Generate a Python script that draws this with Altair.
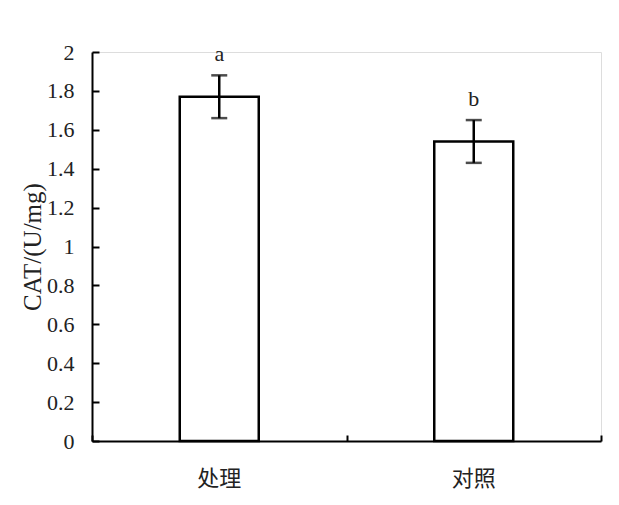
import altair as alt
import pandas as pd

groups = ["处理", "对照"]
means = [1.77, 1.54]
errors = [0.11, 0.11]
letters = ["a", "b"]
yticks = [0, 0.2, 0.4, 0.6, 0.8, 1, 1.2, 1.4, 1.6, 1.8, 2]

df = pd.DataFrame({"group": groups, "mean": means, "err": errors, "letter": letters})

W, H = 509, 389
SERIF = "Liberation Serif"
CJK = "Noto Sans CJK SC"

xscale = alt.Scale(domain=groups, paddingInner=0, paddingOuter=0)
yscale = alt.Scale(domain=[0, 2], nice=False)

base = alt.Chart(df).transform_calculate(
    lo="datum.mean - datum.err", hi="datum.mean + datum.err"
)

xn = alt.X("group:N", scale=xscale, sort=groups, axis=None)

bars = base.mark_bar(width=79, fill="white", stroke="black", strokeWidth=2.5).encode(
    x=alt.X("group:N", scale=xscale, sort=groups,
            axis=alt.Axis(title=None, orient="bottom", ticks=False, labelAngle=0,
                          labelFont=CJK, labelFontSize=22, labelColor="#222",
                          labelPadding=27, domainColor="black", domainWidth=2)),
    y=alt.Y("mean:Q", scale=yscale,
            axis=alt.Axis(title="CAT/(U/mg)", orient="left", ticks=False,
                          values=yticks, format="~g",
                          labelFont=SERIF, labelFontSize=22, labelColor="#222",
                          labelPadding=18, domainColor="black", domainWidth=2,
                          grid=False, titleFont=SERIF, titleFontSize=25,
                          titleFontWeight="normal", titleColor="#222", titlePadding=1)),
)

stems = base.mark_rule(color="black", strokeWidth=2.5).encode(
    x=xn,
    y=alt.Y("lo:Q", scale=yscale, axis=None),
    y2="hi:Q",
)

caps_lo = base.mark_tick(orient="horizontal", size=16, thickness=2.5, color="black").encode(
    x=xn,
    y=alt.Y("lo:Q", scale=yscale, axis=None),
)

caps_hi = base.mark_tick(orient="horizontal", size=16, thickness=2.5, color="black").encode(
    x=xn,
    y=alt.Y("hi:Q", scale=yscale, axis=None),
)

labels = base.mark_text(font=SERIF, fontSize=22, color="#222", dy=-21).encode(
    x=alt.X("group:N", scale=xscale, sort=groups,
            axis=alt.Axis(title=None, orient="top", offset=-H, labels=False, domain=False,
                          grid=False, tickBand="extent", tickSize=6, tickWidth=2,
                          tickColor="black", tickCap="butt")),
    y=alt.Y("hi:Q", scale=yscale,
            axis=alt.Axis(title=None, orient="right", offset=-W, labels=False, domain=False,
                          values=yticks, tickSize=7, tickWidth=2, tickColor="black",
                          grid=False)),
    text="letter:N",
)

chart = alt.layer(bars, stems, caps_lo, caps_hi, labels).resolve_axis(
    x="independent", y="independent"
).properties(
    width=W, height=H,
    autosize=alt.AutoSizeParams(type="none"),
    padding={"left": 84, "top": 44, "right": 10, "bottom": 56},
).configure_view(strokeWidth=0, stroke="transparent", fill="white").configure(background="white")

chart.save("out.html", embed_options={"renderer": "svg", "actions": False})
